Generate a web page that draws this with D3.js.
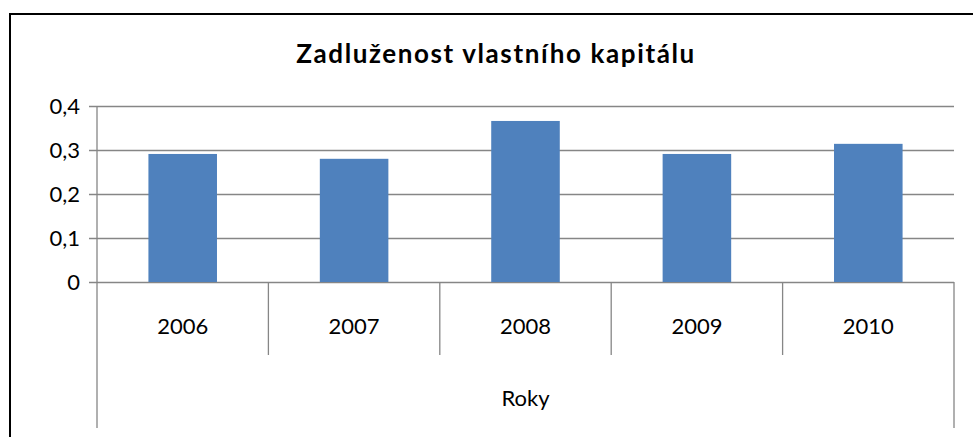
<!DOCTYPE html>
<html>
<head>
<meta charset="utf-8">
<script src="https://cdn.jsdelivr.net/npm/d3@7"></script>
<style>
  body { margin: 0; background: #fff; }
  text { font-family: Lato, "Open Sans", sans-serif; fill: #000; }
</style>
</head>
<body>
<div id="chart"></div>
<script>
// data
var years = ["2006", "2007", "2008", "2009", "2010"];
var values = [0.291, 0.280, 0.366, 0.291, 0.314];
var yTicks = [0, 0.1, 0.2, 0.3, 0.4];
var title = "Zadluženost vlastního kapitálu";
var axisTitle = "Roky";

var svgWidth = 973;
var svgHeight = 437;

var margin = { top: 106, left: 97, right: 19, bottom: 155 };
var width = svgWidth - margin.left - margin.right;
var height = svgHeight - margin.top - margin.bottom;

var svg = d3.select("#chart")
  .append("svg")
  .attr("width", svgWidth)
  .attr("height", svgHeight);

// outer frame (runs past the right and bottom edge)
svg.append("rect")
  .attr("x", 10)
  .attr("y", 14)
  .attr("width", 980)
  .attr("height", 500)
  .attr("fill", "none")
  .attr("stroke", "#000")
  .attr("stroke-width", 2);

svg.append("text")
  .attr("x", 496)
  .attr("y", 63)
  .attr("text-anchor", "middle")
  .style("font-size", "26px")
  .style("font-weight", "bold")
  .style("letter-spacing", "1.6px")
  .text(title);

var chartGroup = svg.append("g")
  .attr("transform", `translate(${margin.left}, ${margin.top})`);

var xScale = d3.scaleBand()
  .domain(years)
  .range([0, width]);

var yScale = d3.scaleLinear()
  .domain([0, 0.4])
  .range([height, 0]);

var gridColor = "#868686";

// gridlines + ticks
var yAxis = d3.axisLeft(yScale)
  .tickValues(yTicks)
  .tickSize(-width)
  .tickPadding(17)
  .tickFormat(d => d3.format(".1f")(d).replace(".", ",").replace(/^0,0$/, "0"));

var yG = chartGroup.append("g").call(yAxis);
yG.select(".domain").remove();
yG.selectAll(".tick line")
  .attr("x1", -8)
  .attr("stroke", gridColor)
  .attr("stroke-width", 1.3);
yG.selectAll(".tick text")
  .style("font-size", "22px")
  .style("font-family", "Lato, 'Open Sans', sans-serif")
  .attr("dy", "0.35em");

// vertical axis line
chartGroup.append("line")
  .attr("x1", 0).attr("x2", 0)
  .attr("y1", 0).attr("y2", height + 146)
  .attr("stroke", gridColor)
  .attr("stroke-width", 1.3);

// right end and category dividers
chartGroup.append("line")
  .attr("x1", width).attr("x2", width)
  .attr("y1", height).attr("y2", height + 146)
  .attr("stroke", gridColor)
  .attr("stroke-width", 1.3);

chartGroup.selectAll(".divider")
  .data(years.slice(1))
  .enter()
  .append("line")
  .attr("class", "divider")
  .attr("x1", d => xScale(d)).attr("x2", d => xScale(d))
  .attr("y1", height).attr("y2", height + 73)
  .attr("stroke", gridColor)
  .attr("stroke-width", 1.3);

// bars
var barW = xScale.bandwidth() * 0.4;
chartGroup.selectAll("rect.bar")
  .data(values)
  .enter()
  .append("rect")
  .attr("class", "bar")
  .attr("x", (d, i) => xScale(years[i]) + (xScale.bandwidth() - barW) / 2)
  .attr("y", d => yScale(d))
  .attr("width", barW)
  .attr("height", d => height - yScale(d))
  .attr("fill", "#4F81BD");

// category labels
chartGroup.selectAll(".cat")
  .data(years)
  .enter()
  .append("text")
  .attr("class", "cat")
  .attr("x", d => xScale(d) + xScale.bandwidth() / 2)
  .attr("y", height + 52)
  .attr("text-anchor", "middle")
  .style("font-size", "22px")
  .text(d => d);

chartGroup.append("text")
  .attr("x", width / 2)
  .attr("y", height + 124)
  .attr("text-anchor", "middle")
  .style("font-size", "22px")
  .text(axisTitle);
</script>
</body>
</html>
